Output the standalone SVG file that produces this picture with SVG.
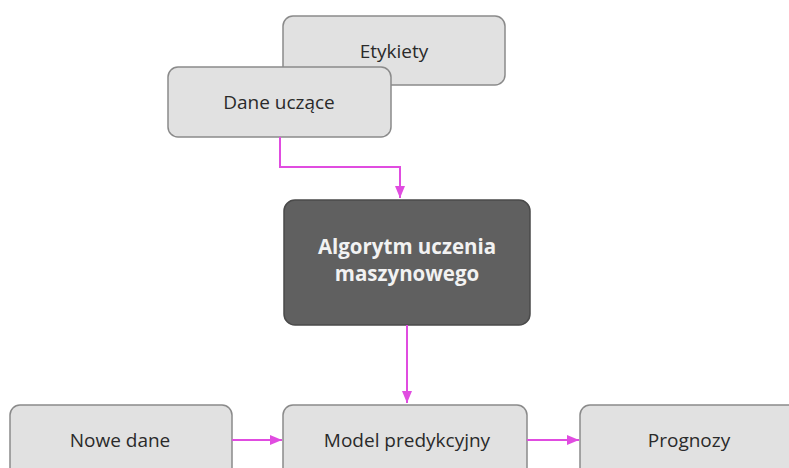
<svg xmlns="http://www.w3.org/2000/svg" width="789" height="468" viewBox="0 0 789 468">
<style>
.box{fill:#e1e1e1;stroke:#8a8a8a;stroke-width:1.5}
.dark{fill:#606060;stroke:#4a4a4a;stroke-width:1.5}
.lbl{font-family:"Open Sans","Liberation Sans",sans-serif;font-size:19px;fill:#2a2a2a;text-anchor:middle}
.dlbl{font-family:"Open Sans","Liberation Sans",sans-serif;font-size:20.5px;font-weight:bold;fill:#f2f2f2;text-anchor:middle}
.con{fill:none;stroke:#e04ce0;stroke-width:2}
</style>
<defs>
<marker id="ah" viewBox="0 0 12 10" refX="12" refY="5" markerWidth="12" markerHeight="10" markerUnits="userSpaceOnUse" orient="auto">
<path d="M0,0 L12,5 L0,10 z" fill="#e04ce0"/>
</marker>
</defs>
<rect width="789" height="468" fill="#ffffff"/>
<g id="etykiety">
<rect class="box" x="283" y="16" width="222" height="69" rx="10"/>
<text class="lbl" x="394" y="58">Etykiety</text>
</g>
<g id="dane-uczace">
<rect class="box" x="168" y="67" width="223" height="70" rx="10"/>
<text class="lbl" x="279" y="109">Dane uczące</text>
</g>
<g id="algorytm">
<rect class="dark" x="284" y="200" width="246" height="125" rx="11"/>
<text class="dlbl" x="407" y="254">Algorytm uczenia</text>
<text class="dlbl" x="407" y="281">maszynowego</text>
</g>
<g id="nowe-dane">
<rect class="box" x="10" y="405" width="222" height="75" rx="10"/>
<text class="lbl" x="120" y="447">Nowe dane</text>
</g>
<g id="model">
<rect class="box" x="283" y="405" width="244" height="75" rx="10"/>
<text class="lbl" x="407" y="447">Model predykcyjny</text>
</g>
<g id="prognozy">
<rect class="box" x="580" y="405" width="230" height="75" rx="10"/>
<text class="lbl" x="689" y="447">Prognozy</text>
</g>
<g id="connectors">
<path class="con" d="M280,137 V167 H400 V198" marker-end="url(#ah)"/>
<path class="con" d="M407,325 V403" marker-end="url(#ah)"/>
<path class="con" d="M232,440 H282" marker-end="url(#ah)"/>
<path class="con" d="M527,440 H579" marker-end="url(#ah)"/>
</g>
</svg>
